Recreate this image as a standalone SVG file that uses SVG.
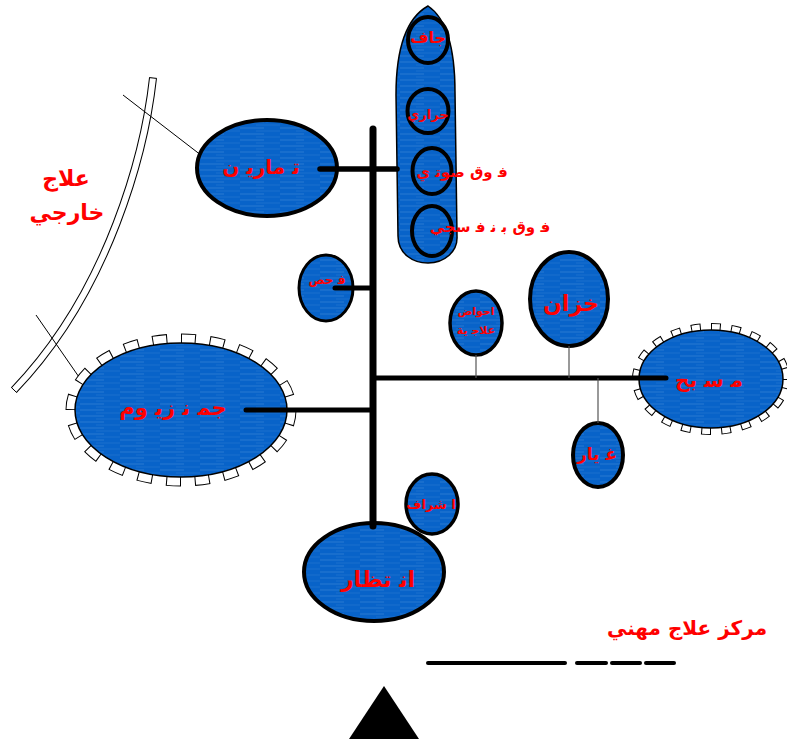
<svg xmlns="http://www.w3.org/2000/svg" width="787" height="744" viewBox="0 0 787 744">
<defs>
<pattern id="wash" width="40" height="6" patternUnits="userSpaceOnUse">
<rect width="40" height="6" fill="#0863c9"/>
<line x1="0" y1="2" x2="24" y2="2" stroke="#5a9be0" stroke-width="0.7" opacity="0.55"/>
<line x1="16" y1="5" x2="40" y2="5" stroke="#4a8fdb" stroke-width="0.6" opacity="0.45"/>
</pattern>
<style>
.blue{fill:url(#wash);stroke:#000;}
.thick{stroke-width:4;}
.thin{stroke-width:1.5;}
.lbl{font-family:"DejaVu Sans","Noto Sans",sans-serif;font-weight:bold;fill:#ff0000;text-anchor:middle;}
.bar{stroke:#000;stroke-linecap:round;fill:none;}
.hair{stroke:#555;stroke-width:1.2;fill:none;}
.chairB{fill:none;stroke:#000;}
.chairW{fill:none;stroke:#fff;}
</style>
</defs>
<rect width="787" height="744" fill="#fff"/>

<g id="outside-boundary">
<path d="M153,78 C145,150 110,290 14,390" fill="none" stroke="#000" stroke-width="8"/>
<path d="M153,78 C145,150 110,290 14,390" fill="none" stroke="#fff" stroke-width="6"/>
<line x1="149.2" y1="77.6" x2="156.8" y2="78.4" stroke="#000" stroke-width="1"/>
<line x1="11.2" y1="387.3" x2="16.8" y2="392.7" stroke="#000" stroke-width="1"/>
<line x1="123" y1="95" x2="219" y2="169" stroke="#000" stroke-width="1"/>
<line x1="36" y1="315" x2="97" y2="403" stroke="#000" stroke-width="1"/>
<text class="lbl" x="66" y="186" font-size="22">علاج</text>
<text class="lbl" x="67" y="220" font-size="22">خارجي</text>
</g>

<g id="physical-blob">
<path class="blue" stroke-width="1.5" d="M428,6 C410,16 396,42 396,95 L398,236 C398,254 413,263 428,263 C444,263 458,252 457,236 L455,92 C455,45 446,18 428,6 Z"/>
<ellipse cx="428" cy="40" rx="20" ry="23" fill="none" stroke="#000" stroke-width="4"/>
<ellipse cx="428" cy="111" rx="20.5" ry="22" fill="none" stroke="#000" stroke-width="4"/>
<ellipse cx="432" cy="171" rx="19.5" ry="23" fill="none" stroke="#000" stroke-width="4"/>
<ellipse cx="432" cy="231" rx="20" ry="25" fill="none" stroke="#000" stroke-width="4"/>
<text class="lbl" x="428" y="43" font-size="16">جاف</text>
<text class="lbl" x="428" y="119" font-size="13">حراري</text>
<text class="lbl" x="462" y="177" font-size="15">ف&#x200D; وق صوت&#x200D; ي</text>
<text class="lbl" x="490" y="232" font-size="15">ف&#x200D; وق ب&#x200D; ن&#x200D; ف&#x200D; سجي</text>
</g>

<g id="exercises">
<ellipse class="blue thick" cx="267" cy="168" rx="70" ry="48"/>
<text class="lbl" x="261" y="174" font-size="20">ت&#x200D; ماري&#x200D; ن</text>
</g>

<g id="exam">
<ellipse class="blue" stroke-width="3" cx="326" cy="288" rx="27" ry="33"/>
<text class="lbl" x="327" y="284" font-size="12">ف&#x200D; حص</text>
</g>

<g id="therapy-tanks">
<ellipse class="blue" stroke-width="3.5" cx="476" cy="323" rx="26" ry="32"/>
<text class="lbl" x="476" y="315" font-size="11">احواض</text>
<text class="lbl" x="476" y="334" font-size="11">علاج&#x200D; ية</text>
</g>

<g id="tank">
<ellipse class="blue thick" cx="569" cy="299" rx="39" ry="47"/>
<text class="lbl" x="571" y="311" font-size="22">خزان</text>
</g>

<g id="pool">
<ellipse class="chairB" cx="711" cy="379" rx="75" ry="52" pathLength="200" stroke-width="8" stroke-dasharray="4.9 5.1"/>
<ellipse class="chairW" cx="711" cy="379" rx="75" ry="52" pathLength="200" stroke-width="6" stroke-dasharray="3.9 6.1" stroke-dashoffset="-0.5"/>
<ellipse class="blue thin" cx="711" cy="379" rx="72" ry="49"/>
<text class="lbl" x="709" y="387" font-size="20">م&#x200D; س&#x200D; بح</text>
</g>

<g id="changing">
<ellipse class="blue thick" cx="598" cy="455" rx="25" ry="32"/>
<text class="lbl" x="597" y="460" font-size="17">غ&#x200D; يار</text>
</g>

<g id="gym">
<ellipse class="chairB" cx="181" cy="410" rx="110" ry="71" pathLength="200" stroke-width="11" stroke-dasharray="5.2 4.8"/>
<ellipse class="chairW" cx="181" cy="410" rx="110" ry="71" pathLength="200" stroke-width="9" stroke-dasharray="4.5 5.5" stroke-dashoffset="-0.35"/>
<ellipse class="blue thin" cx="181" cy="410" rx="106" ry="67"/>
<text class="lbl" x="173" y="415" font-size="21">جم&#x200D; ن&#x200D; زي&#x200D; وم</text>
</g>

<g id="supervision">
<ellipse class="blue" stroke-width="3.5" cx="432" cy="504" rx="26" ry="30"/>
<text class="lbl" x="431" y="509" font-size="13">ا شراف</text>
</g>

<g id="waiting">
<ellipse class="blue thick" cx="374" cy="572" rx="70" ry="49"/>
<text class="lbl" x="378" y="587" font-size="22">ان&#x200D; تظار</text>
</g>

<g id="connectors">
<line class="bar" x1="373" y1="129" x2="373" y2="526" stroke-width="7" stroke-linecap="round"/>
<line class="bar" x1="320" y1="169" x2="397" y2="169" stroke-width="5.5"/>
<line class="bar" x1="335" y1="288" x2="373" y2="288" stroke-width="5"/>
<line class="bar" x1="373" y1="378" x2="666" y2="378" stroke-width="5"/>
<line class="bar" x1="246" y1="410" x2="373" y2="410" stroke-width="5"/>
<line class="hair" x1="476" y1="355" x2="476" y2="378"/>
<line class="hair" x1="569" y1="346" x2="569" y2="378"/>
<line class="hair" x1="598" y1="378" x2="598" y2="423"/>
</g>

<g id="legend">
<text class="lbl" x="687" y="635" font-size="20">مركز علاج  مهني</text>
<line class="bar" x1="428" y1="663" x2="565" y2="663" stroke-width="4"/>
<line class="bar" x1="577" y1="663" x2="606" y2="663" stroke-width="4"/>
<line class="bar" x1="612" y1="663" x2="640" y2="663" stroke-width="4"/>
<line class="bar" x1="646" y1="663" x2="674" y2="663" stroke-width="4"/>
<polygon points="384,686 349,739 419,739" fill="#000"/>
</g>
</svg>
